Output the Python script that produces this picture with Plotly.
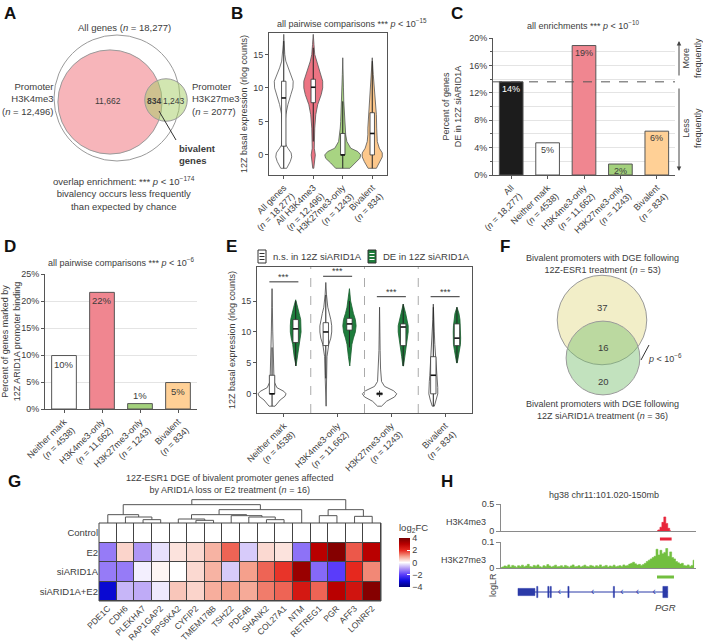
import plotly.graph_objects as go

W, H = 703, 643
FONT = "Arial, 'Liberation Sans', sans-serif"
TXT = "#3c3c3c"
AX = "#555555"
GRID = "#e4e4e4"

# ===================== DATA =====================
# A: promoter histone marks (Venn)
a_all_genes = 18277
a_h3k4me3 = 12496
a_h3k27me3 = 2077
a_h3k4_only = "11,662"
a_bivalent = "834"
a_h3k27_only = "1,243"

# B: basal expression violins (profiles)
b_labels = ["All genes<br>(<i>n</i> = 18,277)", "All H3K4me3<br>(<i>n</i> = 12,496)",
            "H3K27me3-only<br>(<i>n</i> = 1243)", "Bivalent<br>(<i>n</i> = 834)"]
b_colors = ["#ffffff", "#ec7483", "#a8d482", "#fdc88c"]
b_prof_y = [
    [-2, -1, -0.3, 0.3, 1, 1.5, 2.5, 4, 6, 7.5, 9, 10, 11, 12, 13, 14, 15, 16.5, 18],
    [-2, -1, 0, 1, 2, 4, 6, 7.5, 9, 10, 11, 12, 13, 14, 15, 16.5, 18],
    [-2, -1.2, -0.5, 0, 0.5, 1, 2, 3, 4, 5, 6, 8, 10, 12, 14.5],
    [-2, -1, -0.3, 0.3, 1, 2, 3, 4, 6, 8, 10, 12, 14.5],
]
b_prof_w = [
    [0.10, 0.22, 0.27, 0.25, 0.14, 0.07, 0.035, 0.035, 0.07, 0.14, 0.24, 0.31, 0.32, 0.24, 0.14, 0.07, 0.035, 0.017, 0],
    [0.017, 0.05, 0.07, 0.035, 0.035, 0.05, 0.085, 0.15, 0.27, 0.32, 0.32, 0.25, 0.17, 0.10, 0.05, 0.024, 0],
    [0.24, 0.41, 0.58, 0.61, 0.51, 0.27, 0.14, 0.10, 0.085, 0.07, 0.05, 0.035, 0.024, 0.014, 0],
    [0.14, 0.27, 0.34, 0.34, 0.24, 0.17, 0.15, 0.15, 0.14, 0.10, 0.07, 0.035, 0],
]
b_q1 = [1.3, 7.8, 0.0, 0.0]
b_med = [8.5, 10.1, 0.0, 3.2]
b_q3 = [11.0, 11.3, 3.2, 6.3]
b_lo = [-2.0, 2.0, -2.0, -2.0]
b_hi = [17.0, 16.0, 8.0, 14.0]

# C: percent DE in 12Z siARID1A
c_labels = ["All<br>(<i>n</i> = 18,277)", "Neither mark<br>(<i>n</i> = 4538)",
            "H3K4me3-only<br>(<i>n</i> = 11,662)", "H3K27me3-only<br>(<i>n</i> = 1243)",
            "Bivalent<br>(<i>n</i> = 834)"]
c_values = [13.6, 4.7, 18.9, 1.6, 6.4]
c_colors = ["#1c1c1c", "#ffffff", "#f08690", "#a3d17c", "#ffd096"]
c_text_colors = ["#ffffff", TXT, TXT, TXT, TXT]

# D: percent marked by ARID1A promoter binding
d_labels = ["Neither mark<br>(<i>n</i> = 4538)", "H3K4me3-only<br>(<i>n</i> = 11,662)",
            "H3K27me3-only<br>(<i>n</i> = 1243)", "Bivalent<br>(<i>n</i> = 834)"]
d_values = [9.9, 21.6, 1.0, 4.9]
d_colors = ["#ffffff", "#f08690", "#a3d17c", "#ffd096"]
d_text_outside = [False, False, True, False]

# E: expression split by DE status
e_labels = ["Neither mark<br>(<i>n</i> = 4538)", "H3K4me3-only<br>(<i>n</i> = 11,662)",
            "H3K27me3-only<br>(<i>n</i> = 1243)", "Bivalent<br>(<i>n</i> = 834)"]
e_ns_y = [
    [-2, -1, -0.4, 0, 0.4, 1, 2, 4, 7, 10, 14, 17],
    [-2, 0, 3, 6, 8, 9, 10, 11, 12, 13, 14, 16, 18],
    [-2, -1.2, -0.5, 0, 0.5, 1.2, 2, 4, 7, 10, 14],
    [-2, -1, 0, 1, 2, 3, 4, 6, 8, 10, 12, 14.5],
]
e_ns_w = [
    [0.055, 0.15, 0.24, 0.26, 0.22, 0.09, 0.037, 0.028, 0.018, 0.013, 0.006, 0],
    [0.006, 0.009, 0.013, 0.022, 0.056, 0.093, 0.11, 0.11, 0.093, 0.065, 0.037, 0.013, 0],
    [0.037, 0.13, 0.28, 0.32, 0.26, 0.093, 0.037, 0.019, 0.011, 0.006, 0],
    [0.019, 0.056, 0.083, 0.083, 0.074, 0.065, 0.056, 0.046, 0.028, 0.019, 0.009, 0],
]
e_de_y = [
    [4.5, 6, 8, 9, 10, 11, 12, 13, 14, 15.2],
    [4.5, 6, 8, 9, 10, 11, 12, 13, 14, 15, 17],
    [4.5, 6, 8, 9, 10, 11, 12, 13, 14.5],
    [5, 6, 7, 8, 9, 10, 11, 12, 13, 14],
]
e_de_w = [
    [0.006, 0.028, 0.056, 0.083, 0.10, 0.10, 0.093, 0.065, 0.037, 0],
    [0.006, 0.019, 0.046, 0.074, 0.11, 0.124, 0.11, 0.074, 0.046, 0.022, 0],
    [0.006, 0.028, 0.056, 0.074, 0.093, 0.093, 0.074, 0.046, 0],
    [0.006, 0.028, 0.046, 0.065, 0.069, 0.069, 0.065, 0.056, 0.037, 0],
]
e_ns_q1 = [0.0, 7.8, -0.15, 0.0]
e_ns_med = [0.0, 10.0, 0.0, 3.0]
e_ns_q3 = [3.0, 11.5, 0.15, 6.0]
e_ns_lo = [-2.0, 2.5, -0.5, -2.0]
e_ns_hi = [7.5, 16.0, 0.5, 14.0]
e_de_q1 = [8.3, 10.3, 7.8, 7.8]
e_de_med = [10.5, 11.3, 10.8, 9.0]
e_de_q3 = [12.0, 12.2, 11.3, 11.3]
e_de_lo = [4.5, 7.5, 4.5, 5.0]
e_de_hi = [15.0, 15.0, 14.5, 14.0]
e_sig_y = [18.1, 19.0, 15.7, 15.7]

# F: Venn of bivalent DGE
f_esr1_n = 53
f_siarid_n = 36
f_only_esr1 = "37"
f_overlap = "16"
f_only_si = "20"

# G: heatmap log2FC
g_genes = ["PDE1C", "CDH6", "PLEKHA7", "RAP1GAP2", "RPS6KA2", "CYFIP2", "TMEM178B", "TSHZ2",
           "PDE4B", "SHANK2", "COL27A1", "NTM", "RETREG1", "PGR", "AFF3", "LONRF2"]
g_rows = ["Control", "E2", "siARID1A", "siARID1A+E2"]
g_control = [0, 0, 0, 0, 0, 0, 0, 0, 0, 0, 0, 0, 0, 0, 0, 0]
g_e2 = [-1.3, 0.45, -1.0, -0.3, 0.3, 0.4, 0.8, 1.5, -0.5, 0.4, 0.3, -1.4, 3.0, 3.8, 1.6, 3.0]
g_si = [-1.3, -1.3, -0.15, 0.1, 0.0, 0.4, 0.8, -0.5, 1.0, 1.5, 1.9, 3.5, -1.5, -2.0, 2.0, 1.2]
g_sie2 = [-3.1, -0.7, -0.8, -0.2, 0.6, 0.45, 0.85, 1.0, 0.9, 1.3, 1.5, 2.4, 1.5, 3.0, 2.5, 3.8]
# hierarchical clustering merges (left id, right id, height); ids >= 16 are earlier merges
g_merges = [
    (2, 3, 10), (1, 16, 18), (0, 17, 25),
    (5, 6, 8), (4, 19, 12), (9, 10, 10), (8, 21, 18), (7, 22, 22), (20, 23, 25), (24, 11, 40),
    (12, 13, 22), (14, 15, 20), (26, 27, 40),
    (18, 25, 55), (29, 28, 70),
]

# H: genome tracks (100 bins across the window)
h_k4_bins = [80, 81, 82, 83, 84, 85, 86, 87]
h_k4_vals = [0.005, 0.02, 0.07, 0.16, 0.26, 0.14, 0.05, 0.01]
h_k27_vals = [
    0.002, 0.004, 0.008, 0.006, 0.012, 0.004, 0.010, 0.007, 0.003, 0.009,
    0.006, 0.011, 0.005, 0.008, 0.014, 0.006, 0.004, 0.010, 0.007, 0.012,
    0.005, 0.003, 0.009, 0.006, 0.013, 0.008, 0.004, 0.007, 0.011, 0.005,
    0.006, 0.009, 0.004, 0.010, 0.007, 0.003, 0.008, 0.012, 0.005, 0.006,
    0.009, 0.004, 0.007, 0.011, 0.006, 0.005, 0.010, 0.008, 0.004, 0.009,
    0.006, 0.012, 0.005, 0.007, 0.010, 0.004, 0.008, 0.006, 0.011, 0.005,
    0.007, 0.009, 0.006, 0.012, 0.008, 0.010, 0.015, 0.018, 0.022, 0.016,
    0.012, 0.014, 0.010, 0.013, 0.018, 0.025, 0.030, 0.035, 0.040, 0.045,
    0.072, 0.050, 0.068, 0.055, 0.060, 0.075, 0.045, 0.062, 0.040, 0.035,
    0.025, 0.020, 0.015, 0.018, 0.010, 0.008, 0.012, 0.006, 0.010, 0.030,
]
h_k4_peak = (81.5, 87.5)
h_k27_peak = (80.0, 88.7)
h_exons = [(8.7, 17.4, 0.45), (18.3, 18.9, 0.7), (24.0, 24.6, 0.7), (25.2, 25.8, 0.7),
           (34.3, 34.9, 0.7), (57.6, 58.2, 0.7), (83.0, 85.5, 0.7)]
h_chevrons = [30.0, 47.0, 62.0, 70.0, 78.5]

# ===================== HELPERS =====================
def fx(x):
    return x / W


def fy(y):
    return 1 - y / H


def dx(a, b):
    return [a / W, b / W]


def dy(top, bottom):
    return [1 - bottom / H, 1 - top / H]


def axis(domain, **kw):
    d = dict(domain=domain, showgrid=False, zeroline=False, showline=True, linecolor=AX,
             linewidth=1, ticks="outside", ticklen=3, tickcolor=AX, automargin=False,
             tickfont=dict(size=9, color=TXT, family=FONT))
    d.update(kw)
    return d


def hidden(domain, **kw):
    d = dict(domain=domain, visible=False, automargin=False)
    d.update(kw)
    return d


traces = []
shapes = []
annotations = []


def ann(x, y, text, size=9, xanchor="center", yanchor="middle", **kw):
    d = dict(x=fx(x), y=fy(y), xref="paper", yref="paper", text=text, showarrow=False,
             xanchor=xanchor, yanchor=yanchor, font=dict(size=size, color=TXT, family=FONT))
    d.update(kw)
    annotations.append(d)


def violin(center, ys, ws, fill, edge, xa, ya):
    xs = [center + w for w in ws] + [center - w for w in ws[::-1]]
    yy = list(ys) + list(ys[::-1])
    traces.append(go.Scatter(x=xs + [xs[0]], y=yy + [yy[0]], mode="lines", fill="toself",
                             fillcolor=fill, line=dict(color=edge, width=0.8),
                             xaxis=xa, yaxis=ya, hoverinfo="skip"))


def boxplot(center, hw, q1, q3, lo, hi, med, xa, ya, wcol="#222222"):
    traces.append(go.Scatter(x=[center, center], y=[lo, hi], mode="lines",
                             line=dict(color=wcol, width=1), xaxis=xa, yaxis=ya, hoverinfo="skip"))
    traces.append(go.Scatter(x=[center - hw, center + hw, center + hw, center - hw, center - hw],
                             y=[q1, q1, q3, q3, q1], mode="lines", fill="toself",
                             fillcolor="#ffffff", line=dict(color="#333333", width=0.8),
                             xaxis=xa, yaxis=ya, hoverinfo="skip"))
    traces.append(go.Scatter(x=[center - hw, center + hw], y=[med, med], mode="lines",
                             line=dict(color="#111111", width=1.6), xaxis=xa, yaxis=ya,
                             hoverinfo="skip"))


def circle(cx, cy, r, fill, edge="#9a9a9a"):
    shapes.append(dict(type="circle", xref="paper", yref="paper",
                       x0=fx(cx - r), x1=fx(cx + r), y0=fy(cy + r), y1=fy(cy - r),
                       fillcolor=fill, line=dict(color=edge, width=1)))


# ===================== PANEL LABELS =====================
for lab, x, y in [("A", 10, 14), ("B", 237, 14), ("C", 457, 14), ("D", 10, 246),
                  ("E", 231, 246), ("F", 505, 246), ("G", 14, 481), ("H", 447, 481)]:
    ann(x, y, "<b>%s</b>" % lab, font=dict(size=17, color="#111111", family=FONT))

# ===================== PANEL A =====================
k_a = 0.466
circle(117, 98, k_a * a_all_genes ** 0.5, "#ffffff")
circle(110, 102, k_a * a_h3k4me3 ** 0.5, "rgba(240,120,130,0.55)")
circle(166, 100, k_a * a_h3k27me3 ** 0.5, "rgba(165,205,100,0.5)")
ann(124, 28, "All genes (<i>n</i> = 18,277)", size=9.5)
ann(56, 99, "Promoter<br>H3K4me3<br>(<i>n</i> = 12,496)", size=9.5, xanchor="right", align="right")
ann(190, 99, "Promoter<br>H3K27me3<br>(<i>n</i> = 2077)", size=9.5, xanchor="left", align="left")
ann(108, 101, a_h3k4_only, size=8.5)
ann(154, 101, "<b>%s</b>" % a_bivalent, size=8.5)
ann(174, 101, a_h3k27_only, size=8.5)
ann(177, 154, "<b>bivalent<br>genes</b>", size=9.5, xanchor="left", align="left")
shapes.append(dict(type="line", xref="paper", yref="paper", x0=fx(159), y0=fy(111),
                   x1=fx(176), y1=fy(140), line=dict(color="#333333", width=1)))
ann(124, 193, "overlap enrichment: *** <i>p</i> &lt; 10<sup>−174</sup><br>bivalency occurs less frequently"
    "<br>than expected by chance", size=9.5)

# ===================== PANEL B =====================
for i in range(4):
    c = i + 1
    violin(c, b_prof_y[i], b_prof_w[i], b_colors[i], "#555555", "x", "y")
    boxplot(c, 0.075, b_q1[i], b_q3[i], b_lo[i], b_hi[i], b_med[i], "x", "y")
ann(352, 23, "all pairwise comparisons *** <i>p</i> &lt; 10<sup>−15</sup>", size=9)

# ===================== PANEL C =====================
traces.append(go.Bar(x=list(range(5)), y=c_values, marker=dict(color=c_colors,
                     line=dict(color="#555555", width=1)), xaxis="x2", yaxis="y2",
                     hoverinfo="skip"))
for i, v in enumerate(c_values):
    annotations.append(dict(x=i, y=v, xref="x2", yref="y2", text="%.0f%%" % v, showarrow=False,
                            yanchor="top", yshift=0,
                            font=dict(size=9, color=c_text_colors[i], family=FONT)))
shapes.append(dict(type="line", xref="x2 domain", yref="y2", x0=0, x1=1, y0=c_values[0],
                   y1=c_values[0], line=dict(color="#555555", width=1, dash="dash")))
ann(583, 25, "all enrichments *** <i>p</i> &lt; 10<sup>−10</sup>", size=9)
annotations.append(dict(x=fx(679), y=fy(41), ax=0, ay=36, xref="paper", yref="paper",
                        text="", showarrow=True, arrowhead=2,
                        arrowsize=0.9, arrowwidth=1, arrowcolor="#444444"))
annotations.append(dict(x=fx(679), y=fy(171), ax=0, ay=-84, xref="paper", yref="paper",
                        text="", showarrow=True, arrowhead=2,
                        arrowsize=0.9, arrowwidth=1, arrowcolor="#444444"))
ann(692, 58, "More<br>frequently", size=9, textangle=-90)
ann(692, 128, "Less<br>frequently", size=9, textangle=-90)

# ===================== PANEL D =====================
traces.append(go.Bar(x=list(range(4)), y=d_values, marker=dict(color=d_colors,
                     line=dict(color="#555555", width=1)), xaxis="x3", yaxis="y3",
                     hoverinfo="skip"))
for i, v in enumerate(d_values):
    annotations.append(dict(x=i, y=v, xref="x3", yref="y3", text="%.0f%%" % v, showarrow=False,
                            yanchor="bottom" if d_text_outside[i] else "top",
                            yshift=1 if d_text_outside[i] else -1,
                            font=dict(size=9.5, color=TXT, family=FONT)))
ann(121, 262, "all pairwise comparisons *** <i>p</i> &lt; 10<sup>−6</sup>", size=9)

# ===================== PANEL E =====================
e_off = 0.22
for i in range(4):
    g = i + 1
    violin(g - e_off, e_ns_y[i], e_ns_w[i], "#ffffff", "#444444", "x4", "y4")
    boxplot(g - e_off, 0.05, e_ns_q1[i], e_ns_q3[i], e_ns_lo[i], e_ns_hi[i], e_ns_med[i], "x4", "y4")
    violin(g + e_off, e_de_y[i], e_de_w[i], "#1e7d3c", "#1a5e2e", "x4", "y4")
    boxplot(g + e_off, 0.05, e_de_q1[i], e_de_q3[i], e_de_lo[i], e_de_hi[i], e_de_med[i], "x4", "y4")
    traces.append(go.Scatter(x=[g - e_off - 0.05, g + e_off + 0.05], y=[e_sig_y[i], e_sig_y[i]],
                             mode="lines", line=dict(color="#333333", width=1),
                             xaxis="x4", yaxis="y4", hoverinfo="skip"))
    annotations.append(dict(x=g, y=e_sig_y[i], xref="x4", yref="y4", text="***", showarrow=False,
                            yanchor="bottom", yshift=-2, font=dict(size=9, color=TXT, family=FONT)))
    if i < 3:
        shapes.append(dict(type="line", xref="x4", yref="y4 domain", x0=g + 0.5, x1=g + 0.5,
                           y0=0, y1=1, line=dict(color="#aaaaaa", width=1, dash="dash")))
# legend icons
for (x0, fill, inner, label) in [(258, "#ffffff", "#333333", "n.s. in 12Z siARID1A"),
                                  (368, "#1e7d3c", "#ffffff", "DE in 12Z siARID1A")]:
    shapes.append(dict(type="rect", xref="paper", yref="paper", x0=fx(x0), x1=fx(x0 + 8),
                       y0=fy(263), y1=fy(250), fillcolor=fill, line=dict(color="#333333", width=1)))
    for yy in (253.5, 256.5, 259.5):
        shapes.append(dict(type="line", xref="paper", yref="paper", x0=fx(x0 + 1.5), x1=fx(x0 + 6.5),
                           y0=fy(yy), y1=fy(yy), line=dict(color=inner, width=1)))
    ann(x0 + 13, 256.5, label, size=9.5, xanchor="left")

# ===================== PANEL F =====================
k_f = 6.15
circle(602, 320, k_f * f_esr1_n ** 0.5, "#f2eec8")
circle(603, 358, k_f * f_siarid_n ** 0.5, "rgba(120,190,110,0.45)")
ann(602, 264, "Bivalent promoters with DGE following<br>12Z-ESR1 treatment (<i>n</i> = 53)", size=9)
ann(602, 307, f_only_esr1, size=9.5)
ann(603, 347, f_overlap, size=9.5)
ann(603, 381, f_only_si, size=9.5)
shapes.append(dict(type="line", xref="paper", yref="paper", x0=fx(641), y0=fy(360),
                   x1=fx(649), y1=fy(345), line=dict(color="#333333", width=1)))
ann(646, 358, "<i>p</i> &lt; 10<sup>−6</sup>", size=9, xanchor="left")
ann(602, 410, "Bivalent promoters with DGE following<br>12Z siARID1A treatment (<i>n</i> = 36)", size=9)

# ===================== PANEL G =====================
colorscale = [[0.0, "#000078"], [0.125, "#0a0adc"], [0.25, "#5a3cfa"], [0.375, "#af96f5"],
              [0.5, "#ffffff"], [0.625, "#f5a08c"], [0.75, "#e6281e"], [0.875, "#b90000"],
              [1.0, "#780000"]]
shapes.append(dict(type="rect", xref="x5 domain", yref="y5 domain", x0=0, x1=1, y0=0, y1=1,
                   fillcolor="#444444", line=dict(width=0), layer="below"))
traces.append(go.Heatmap(z=[g_control, g_e2, g_si, g_sie2], x=list(range(16)), y=list(range(4)),
                         colorscale=colorscale, zmin=-4, zmax=4, xgap=1, ygap=1,
                         xaxis="x5", yaxis="y5", hoverinfo="skip",
                         colorbar=dict(x=fx(399), xanchor="left", y=fy(587), yanchor="bottom",
                                       len=66 / H, lenmode="fraction", thickness=11,
                                       thicknessmode="pixels", outlinewidth=0, xpad=0, ypad=0,
                                       tickvals=[-4, -2, 0, 2, 4],
                                       ticktext=["−4", "−2", "0", "2", "4"],
                                       ticks="inside", ticklen=3, tickcolor="#ffffff",
                                       tickfont=dict(size=9, color=TXT, family=FONT),
                                       title=dict(text="log<sub>2</sub>FC", side="top",
                                                  font=dict(size=9.5, color=TXT, family=FONT)))))
shapes.append(dict(type="rect", xref="x5 domain", yref="y5 domain", x0=0, x1=1, y0=0, y1=1,
                   line=dict(color="#444444", width=1)))
# dendrogram from merges
node_x = {i: float(i) for i in range(16)}
node_h = {i: 0.0 for i in range(16)}
dx_pts, dy_pts = [], []
for k, (l, r, hgt) in enumerate(g_merges):
    nid = 16 + k
    dx_pts += [node_x[l], node_x[l], node_x[r], node_x[r], None]
    dy_pts += [node_h[l], hgt, hgt, node_h[r], None]
    node_x[nid] = (node_x[l] + node_x[r]) / 2
    node_h[nid] = hgt
traces.append(go.Scatter(x=dx_pts, y=dy_pts, mode="lines", line=dict(color="#555555", width=1),
                         xaxis="x6", yaxis="y6", hoverinfo="skip"))
ann(229, 484, "12Z-ESR1 DGE of bivalent promoter genes affected<br>by ARID1A loss or E2 treatment (<i>n</i> = 16)",
    size=9)

# ===================== PANEL H =====================
traces.append(go.Scatter(x=h_k4_bins, y=h_k4_vals, mode="lines", fill="tozeroy", line_shape="hvh",
                         fillcolor="#e8253a", line=dict(color="#e8253a", width=0.6),
                         xaxis="x7", yaxis="y7", hoverinfo="skip"))
traces.append(go.Scatter(x=list(range(len(h_k27_vals))), y=h_k27_vals, mode="lines",
                         fill="tozeroy", line_shape="hvh", fillcolor="#72bf3f",
                         line=dict(color="#72bf3f", width=0.6), xaxis="x8", yaxis="y8",
                         hoverinfo="skip"))
shapes.append(dict(type="rect", xref="x7", yref="paper", x0=h_k4_peak[0], x1=h_k4_peak[1],
                   y0=fy(540.5), y1=fy(537.5), fillcolor="#e8253a", line=dict(width=0)))
shapes.append(dict(type="rect", xref="x8", yref="paper", x0=h_k27_peak[0], x1=h_k27_peak[1],
                   y0=fy(578.5), y1=fy(575.5), fillcolor="#72bf3f", line=dict(width=0)))
# gene model
traces.append(go.Scatter(x=[h_exons[0][0], h_exons[-1][1]], y=[0, 0], mode="lines",
                         line=dict(color="#2b3aa8", width=1), xaxis="x9", yaxis="y9",
                         hoverinfo="skip"))
for (s, e, hh) in h_exons:
    shapes.append(dict(type="rect", xref="x9", yref="y9", x0=s, x1=e, y0=-hh, y1=hh,
                       fillcolor="#2b3aa8", line=dict(color="#2b3aa8", width=0.5)))
traces.append(go.Scatter(x=h_chevrons, y=[0] * len(h_chevrons), mode="text", text=["‹"] * len(h_chevrons),
                         textfont=dict(size=10, color="#2b3aa8", family=FONT),
                         xaxis="x9", yaxis="y9", hoverinfo="skip"))
ann(604, 495, "hg38 chr11:101.020-150mb", size=9)
ann(488, 522, "H3K4me3", size=9, xanchor="right")
ann(488, 560, "H3K27me3", size=9, xanchor="right")
ann(493, 585, "logLR", size=9, textangle=-90)
ann(665, 607, "<i>PGR</i>", size=9.5)

# ===================== LAYOUT =====================
layout = dict(
    width=W, height=H, autosize=False, margin=dict(l=0, r=0, t=0, b=0),
    paper_bgcolor="white", plot_bgcolor="white", showlegend=False, bargap=0.35,
    font=dict(family=FONT, size=9, color=TXT),
    xaxis=axis(dx(269, 387), anchor="y", range=[0.5, 4.5], tickvals=[1, 2, 3, 4],
               ticktext=b_labels, tickangle=-45, mirror=True),
    yaxis=axis(dy(33, 175), anchor="x", range=[-3, 18.2], tickvals=[0, 5, 10, 15], mirror=True,
               title=dict(text="12Z basal expression (rlog counts)", font=dict(size=9, color=TXT),
                          standoff=4)),
    xaxis2=axis(dx(493, 675), anchor="y2", range=[-0.5, 4.5], tickvals=list(range(5)),
                ticktext=c_labels, tickangle=-45),
    yaxis2=axis(dy(38, 175), anchor="x2", range=[0, 20], tickvals=[0, 4, 8, 12, 16, 20],
                ticktext=["0%", "4%", "8%", "12%", "16%", "20%"], showgrid=True, gridcolor=GRID,
                minor=dict(dtick=2, tick0=0, ticks="outside", ticklen=2, tickcolor=AX,
                           showgrid=True, gridcolor=GRID),
                title=dict(text="Percent of genes<br>DE in 12Z siARID1A", font=dict(size=9, color=TXT),
                           standoff=6)),
    xaxis3=axis(dx(45, 197), anchor="y3", range=[-0.5, 3.5], tickvals=list(range(4)),
                ticktext=d_labels, tickangle=-45),
    yaxis3=axis(dy(274, 409), anchor="x3", range=[0, 25], tickvals=[0, 5, 10, 15, 20, 25],
                ticktext=["0%", "5%", "10%", "15%", "20%", "25%"], showgrid=True, gridcolor=GRID,
                title=dict(text="Percent of genes marked by<br>12Z ARID1A promoter binding",
                           font=dict(size=9, color=TXT), standoff=4)),
    xaxis4=axis(dx(257, 472), anchor="y4", range=[0.5, 4.5], tickvals=[1, 2, 3, 4],
                ticktext=e_labels, tickangle=-45, mirror=True),
    yaxis4=axis(dy(267, 413), anchor="x4", range=[-3.1, 20.5], tickvals=[0, 5, 10, 15], mirror=True,
                title=dict(text="12Z basal expression (rlog counts)", font=dict(size=9, color=TXT),
                           standoff=4)),
    xaxis5=axis(dx(99, 381), anchor="y5", range=[-0.5, 15.5], tickvals=list(range(16)),
                ticktext=g_genes, tickangle=-45, showline=False, ticks="",
                tickfont=dict(size=8.5, color=TXT, family=FONT)),
    yaxis5=axis(dy(523, 601), anchor="x5", range=[3.5, -0.5], tickvals=list(range(4)),
                ticktext=g_rows, showline=False, ticks="",
                tickfont=dict(size=9.5, color=TXT, family=FONT)),
    xaxis6=hidden(dx(99, 381), anchor="y6", range=[-0.5, 15.5]),
    yaxis6=hidden(dy(499, 523), anchor="x6", range=[0, 72]),
    xaxis7=axis(dx(501, 696), anchor="y7", range=[0, 100], ticks="", showticklabels=False,
                linecolor="#8a8a8a"),
    yaxis7=axis(dy(504, 531), anchor="x7", range=[0, 0.5], tickvals=[0, 0.5], ticktext=["0", "0.5"],
                ticklen=4, linecolor="#8a8a8a", tickcolor="#8a8a8a"),
    xaxis8=axis(dx(501, 696), anchor="y8", range=[0, 100], ticks="", showticklabels=False,
                linecolor="#8a8a8a"),
    yaxis8=axis(dy(542, 568), anchor="x8", range=[0, 0.1], tickvals=[0, 0.1], ticktext=["0", "0.1"],
                ticklen=4, linecolor="#8a8a8a", tickcolor="#8a8a8a"),
    xaxis9=hidden(dx(501, 696), anchor="y9", range=[0, 100]),
    yaxis9=hidden(dy(584, 600), anchor="x9", range=[-1, 1]),
    shapes=shapes,
    annotations=annotations,
)

fig = go.Figure(data=traces, layout=layout)
fig.write_html("out.html", config={"displayModeBar": False},
               post_script="document.body.style.margin='0';document.body.style.overflow='hidden';")
